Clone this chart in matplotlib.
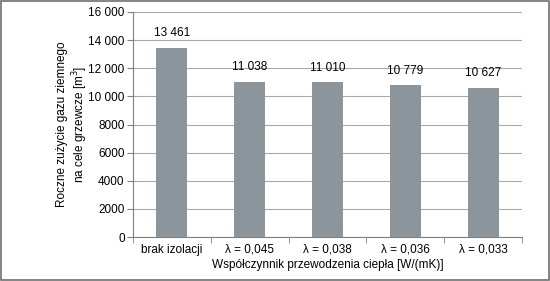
import matplotlib
matplotlib.use("Agg")
import matplotlib.pyplot as plt
from matplotlib.patches import Rectangle
from matplotlib.ticker import FixedLocator, NullFormatter

categories = ["brak izolacji", "λ = 0,045", "λ = 0,038", "λ = 0,036", "λ = 0,033"]
values = [13461, 11038, 11010, 10779, 10627]
yticks = [0, 2000, 4000, 6000, 8000, 10000, 12000, 14000, 16000]
ytick_labels = ["0", "2000", "4000", "6000", "8000", "10 000", "12 000", "14 000", "16 000"]

plt.rcParams['font.family'] = ['Liberation Sans', 'DejaVu Sans']
fs = 8.5

fig = plt.figure(figsize=(5.5, 2.81), dpi=100)
ax = fig.add_axes([133/550, 1 - 237/281, 389/550, 225/281])

x = list(range(len(categories)))
ax.bar(x, values, width=0.4, color="#8c959c", zorder=3)

for xi, v in zip(x, values):
    lab = f"{v:,}".replace(",", " ")
    ax.text(xi, v + 600, lab, ha="center", va="bottom", fontsize=fs)

ax.set_xlim(-0.5, len(categories) - 0.5)
ax.set_ylim(0, 16000)
ax.set_yticks(yticks)
ax.set_yticklabels(ytick_labels, fontsize=fs)
ax.set_xticks(x)
ax.set_xticklabels(categories, fontsize=fs)
ax.tick_params(axis="x", length=0, pad=5)
ax.xaxis.set_minor_locator(FixedLocator([i - 0.5 for i in range(len(categories) + 1)]))
ax.xaxis.set_minor_formatter(NullFormatter())
ax.tick_params(axis="x", which="minor", length=4, color="#808080", direction="out")
ax.tick_params(axis="y", length=4, color="#808080", pad=2)

ax.grid(axis="y", color="#a8a8a8", linewidth=0.8, zorder=0)
for s in ["top", "right"]:
    ax.spines[s].set_visible(False)
ax.spines["left"].set_color("#808080")
ax.spines["bottom"].set_color("#808080")

ax.set_xlabel("Współczynnik przewodzenia ciepła [W/(mK)]", fontsize=fs, labelpad=2)
ax.set_ylabel("Roczne zużycie gazu ziemnego\nna cele grzewcze [m$^3$]", fontsize=fs)
ax.yaxis.set_label_coords(-0.11, 0.5)

fig.patches.append(Rectangle((0.002, 0.004), 0.996, 0.992, transform=fig.transFigure,
                             fill=False, edgecolor="#707070", linewidth=1.2))

fig.savefig("out.png", dpi=100)
